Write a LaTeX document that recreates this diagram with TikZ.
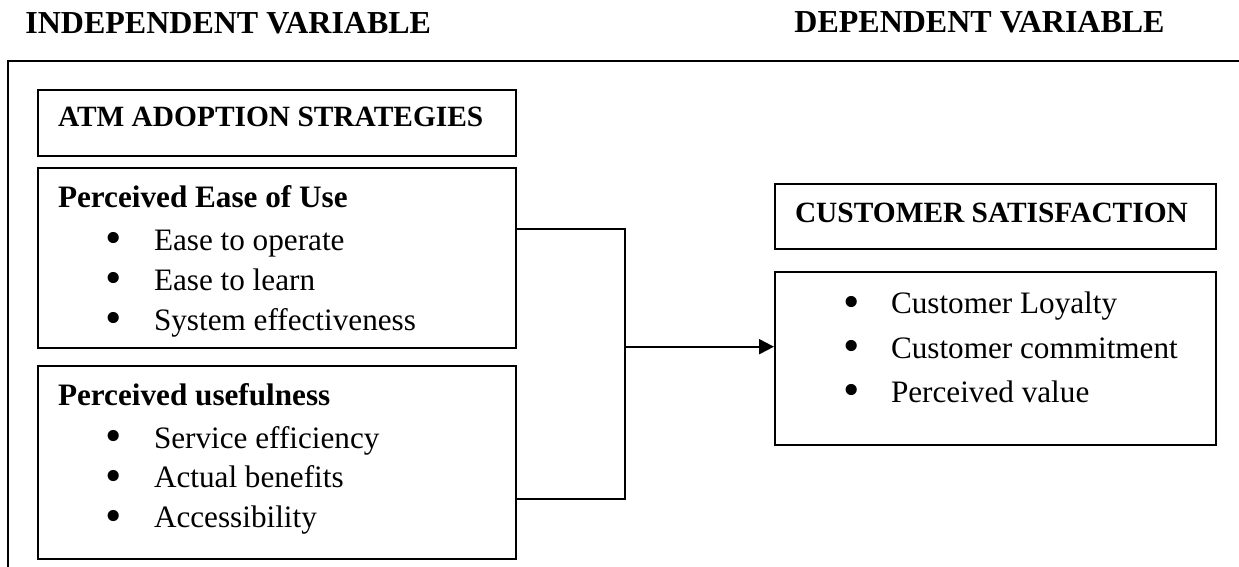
\documentclass[tikz,border=0pt]{standalone}
\usepackage{fontspec}
\usepackage{graphicx}
\setmainfont{Liberation Serif}
\usetikzlibrary{arrows.meta}

% bullet line inside a box
\newcommand{\bitem}[1]{\hspace*{24pt}\makebox[24pt][l]{\smash{\raisebox{-1.6pt}{\scalebox{1.5}{\textbullet}}}}#1}

\begin{document}
\begin{tikzpicture}[x=0.5pt, y=-0.5pt,
    font=\fontsize{15.6}{20}\selectfont,
    box/.style={draw, line width=1pt, anchor=north west, inner xsep=10pt, inner ysep=0pt, align=flush left},
    leftbox/.style={box, text width=219pt},
    rightbox/.style={box, text width=200.5pt},
    boxtitle/.style={font=\fontsize{14.7}{20}\selectfont\bfseries},
    link/.style={line width=1pt},
    title/.style={font=\fontsize{16}{20}\selectfont\bfseries, inner sep=0pt}]
    \useasboundingbox (0,0) rectangle (1239,567);

    % Column titles
    \node[title, anchor=base west] (indep) at (25,33.3) {INDEPENDENT VARIABLE};
    \node[title, anchor=base east] (dep) at (1165,33) {DEPENDENT VARIABLE};

    % Outer frame, cut off at the right and bottom
    \draw[link] (1239,61) -- (8,61) -- (8,567);

    % Independent variable
    \node[leftbox, boxtitle, text height=18.5pt, text depth=14.5pt] (atm) at (37,89) {ATM~ADOPTION~STRATEGIES};
    \node[leftbox, text height=19.85pt, text depth=70pt] (ease) at (37,167)
        {\textbf{Perceived Ease of Use}\\[1.5pt]
         \bitem{Ease to operate}\\
         \bitem{Ease to learn}\\
         \bitem{System effectiveness}};
    \node[leftbox, text height=20pt, text depth=76.5pt] (useful) at (37,365)
        {\textbf{Perceived usefulness}\\[1pt]
         \bitem{Service efficiency}\\
         \bitem{Actual benefits}\\
         \bitem{Accessibility}};

    % Dependent variable
    \node[rightbox, boxtitle, text height=19.5pt, text depth=13.15pt] (cs) at (774,182.7) {CUSTOMER~SATISFACTION};
    \node[rightbox, text height=21.15pt, text depth=65.5pt] (outcome) at (774,270.7)
        {\bitem{Customer Loyalty}\\[2.2pt]
         \bitem{Customer commitment}\\[2.2pt]
         \bitem{Perceived value}};

    % Connectors
    \coordinate (join) at (625,346.7);
    \draw[link] ([yshift=-30.85pt]ease.north east) -| (join);
    \draw[link] ([yshift=-66.85pt]useful.north east) -| (join);
    \draw[link, -{Triangle[length=7.5pt, width=7.5pt]}] (join) -- (join -| outcome.west);
\end{tikzpicture}
\end{document}
